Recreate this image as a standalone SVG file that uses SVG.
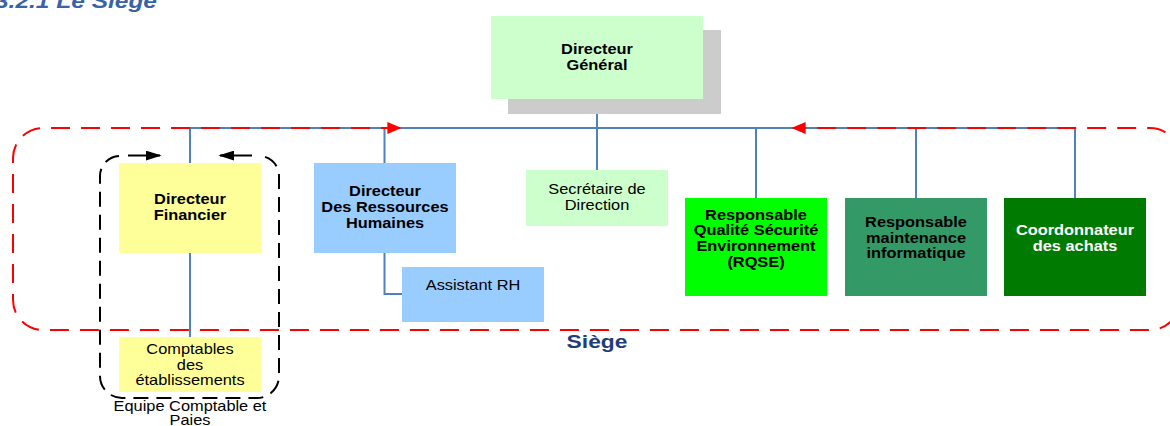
<svg xmlns="http://www.w3.org/2000/svg" width="1170" height="426" viewBox="0 0 1170 426">
<style>
  .t{font-family:"Liberation Sans",Arial,sans-serif;font-size:14px;text-anchor:middle;fill:#000}
  .b{font-weight:bold}
  .w{fill:#fff}
  .conn{stroke:#4F81BD;stroke-width:2;fill:none}
  .reddash{stroke:#FF0000;stroke-width:2;fill:none;stroke-dasharray:19 11}
  .blackdash{stroke:#000;stroke-width:2;fill:none;stroke-dasharray:15 8}
  .blackarrow{stroke:#000;stroke-width:2;fill:none}
</style>
<defs>
  <marker id="redArrow" viewBox="0 0 10 10" refX="9" refY="5" markerUnits="userSpaceOnUse" markerWidth="14" markerHeight="12" preserveAspectRatio="none" orient="auto-start-reverse">
    <path d="M0,0 L10,5 L0,10 Z" fill="#FF0000"/>
  </marker>
  <marker id="blackArrow" viewBox="0 0 10 10" refX="9" refY="5" markerUnits="userSpaceOnUse" markerWidth="16" markerHeight="10" preserveAspectRatio="none" orient="auto">
    <path d="M0,0 L10,5 L0,10 Z" fill="#000"/>
  </marker>
</defs>

<text x="-5" y="8" font-family="Liberation Sans, Arial, sans-serif" font-size="21" font-weight="bold" font-style="italic" fill="#3A62A6" textLength="162" lengthAdjust="spacingAndGlyphs">3.2.1 Le Siège</text>

<g id="connectors">
  <path class="conn" d="M190,128 H1075"/>
  <path class="conn" d="M597,99 V170"/>
  <path class="conn" d="M190,128 V163 M190,253 V337"/>
  <path class="conn" d="M384.5,128 V163 M384.5,253 V294 H402"/>
  <path class="conn" d="M756,128 V198 M916,128 V198 M1075,128 V198"/>
</g>

<g id="group-siege">
  <path class="reddash" d="M400,128 H43 A30,30 0 0 0 13,158 V300 A30,30 0 0 0 43,330 H1150 A30,30 0 0 0 1180,300 V158 A30,30 0 0 0 1150,128 H793" marker-start="url(#redArrow)" marker-end="url(#redArrow)"/>
  <text class="t b" transform="translate(597 0) scale(1.2 1)" y="348.5" style="font-size:19px;fill:#1F3D7A">Siège</text>
</g>

<g id="group-equipe">
  <path class="blackdash" d="M119,156 A20,20 0 0 0 100,176 V376 A22,22 0 0 0 122,398 H257 A22,22 0 0 0 279,376 V176 A20,20 0 0 0 260,156"/>
  <path class="blackarrow" d="M128,155.5 H160" marker-end="url(#blackArrow)"/>
  <path class="blackarrow" d="M252,155.5 H220" marker-end="url(#blackArrow)"/>
  <text class="t" transform="translate(190 0) scale(1.17 1)"><tspan x="0" y="411">Equipe Comptable et</tspan><tspan x="0" y="425">Paies</tspan></text>
</g>

<g id="directeur-general">
  <rect x="508" y="30" width="213" height="84" fill="#CCCCCC"/>
  <rect x="491" y="16" width="212" height="83" fill="#CCFFCC"/>
  <text class="t b" transform="translate(597 0) scale(1.17 1)"><tspan x="0" y="54.5">Directeur</tspan><tspan x="0" y="70.5">Général</tspan></text>
</g>

<g id="directeur-financier">
  <rect x="119" y="163" width="142" height="90" fill="#FFFF99"/>
  <text class="t b" transform="translate(190 0) scale(1.17 1)"><tspan x="0" y="204">Directeur</tspan><tspan x="0" y="220.5">Financier</tspan></text>
</g>

<g id="comptables">
  <rect x="119" y="337" width="142" height="55" fill="#FFFF99"/>
  <text class="t" transform="translate(190 0) scale(1.17 1)"><tspan x="0" y="354">Comptables</tspan><tspan x="0" y="370">des</tspan><tspan x="0" y="385.5">établissements</tspan></text>
</g>

<g id="directeur-rh">
  <rect x="314" y="163" width="142" height="90" fill="#99CCFF"/>
  <text class="t b" transform="translate(385 0) scale(1.17 1)"><tspan x="0" y="196">Directeur</tspan><tspan x="0" y="212">Des Ressources</tspan><tspan x="0" y="228">Humaines</tspan></text>
</g>

<g id="assistant-rh">
  <rect x="402" y="267" width="142" height="55" fill="#99CCFF"/>
  <text class="t" transform="translate(473 0) scale(1.17 1)"><tspan x="0" y="290.5">Assistant RH</tspan></text>
</g>

<g id="secretaire">
  <rect x="526" y="170" width="142" height="56" fill="#CCFFCC"/>
  <text class="t" transform="translate(597 0) scale(1.17 1)"><tspan x="0" y="194.5">Secrétaire de</tspan><tspan x="0" y="210.5">Direction</tspan></text>
</g>

<g id="rqse">
  <rect x="685" y="198" width="142" height="98" fill="#00FF00"/>
  <text class="t b" transform="translate(756 0) scale(1.17 1)"><tspan x="0" y="220">Responsable</tspan><tspan x="0" y="235.5">Qualité Sécurité</tspan><tspan x="0" y="251">Environnement</tspan><tspan x="0" y="267">(RQSE)</tspan></text>
</g>

<g id="maintenance">
  <rect x="845" y="198" width="142" height="98" fill="#339966"/>
  <text class="t b" transform="translate(916 0) scale(1.17 1)"><tspan x="0" y="227">Responsable</tspan><tspan x="0" y="243">maintenance</tspan><tspan x="0" y="258.5">informatique</tspan></text>
</g>

<g id="coordonnateur">
  <rect x="1004" y="198" width="142" height="98" fill="#007A00"/>
  <text class="t b w" transform="translate(1075 0) scale(1.17 1)"><tspan x="0" y="235">Coordonnateur</tspan><tspan x="0" y="251">des achats</tspan></text>
</g>
</svg>
